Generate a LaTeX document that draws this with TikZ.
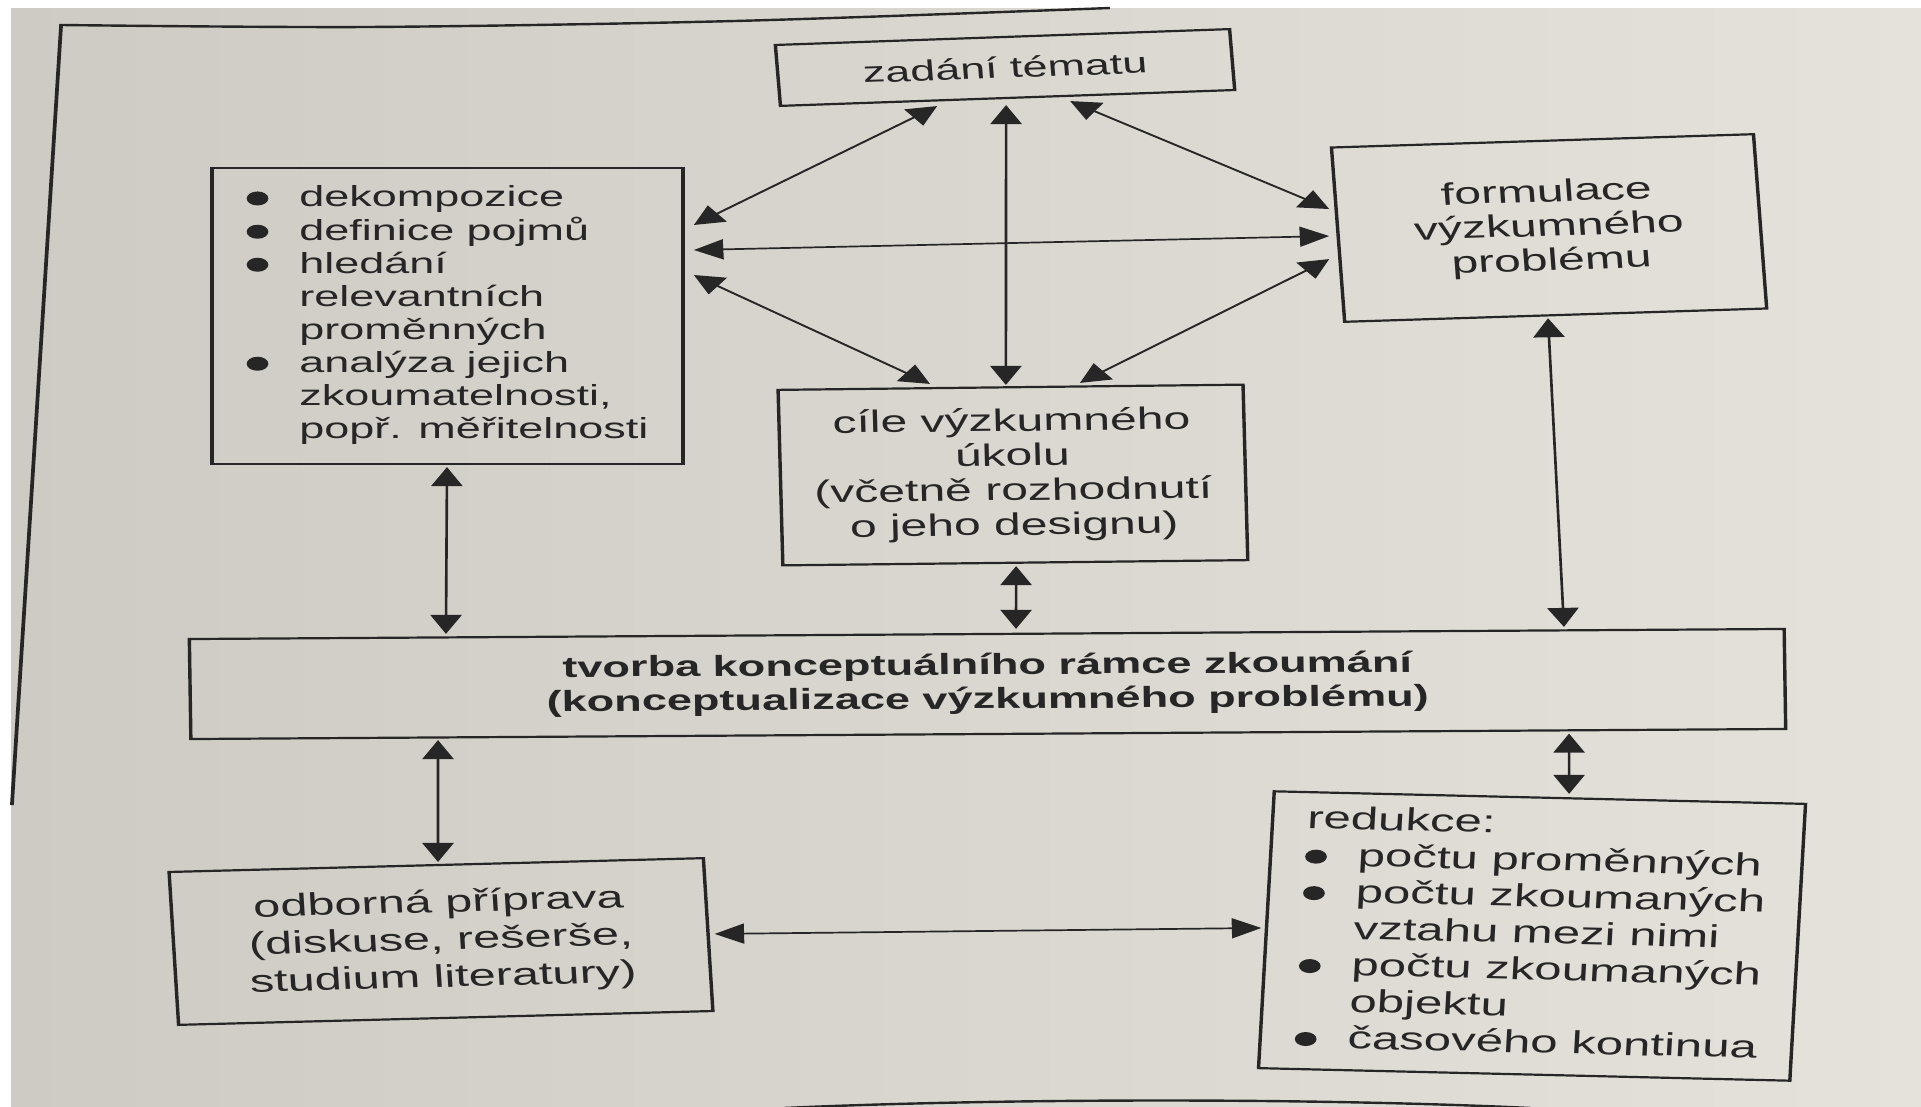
\documentclass[tikz,border=0pt]{standalone}
\usepackage{fontspec}
\setmainfont{Liberation Sans}
\usetikzlibrary{arrows.meta,calc}
\definecolor{ink}{HTML}{262626}
\definecolor{pageL}{RGB}{206,202,196}
\definecolor{pageR}{RGB}{229,226,220}
\newcommand{\bul}{\makebox[34pt][l]{\tikz[x=1pt,y=1pt,baseline=-8.5pt]\fill[ink] (7,0) circle[radius=7];}}
\begin{document}
\begin{tikzpicture}[x=1pt,y=-1pt,
  box/.style={draw=ink, line width=2.2pt, inner sep=0pt, align=center, text=ink},
  link/.style={ink, line width=1.7pt, {Triangle[length=19pt,width=20pt]}-{Triangle[length=19pt,width=20pt]}},
  frameline/.style={ink, line width=2.4pt}]
\useasboundingbox (0,0) rectangle (1921,1107);
\fill[white] (0,0) rectangle (1921,1107);
\shade[left color=pageL, right color=pageR] (11,9) rectangle (1921,1107);
\begin{scope}[transform canvas={xscale=1.55}]
  % outer frame
  \draw[frameline] plot[smooth] coordinates {(716.1,8) (474.2,21) (237.4,27) (39.4,25)} -- (7.7,805);
  \draw[frameline] (505.8,1108) .. controls (650,1098) and (850,1098) .. (987.7,1108);
  % boxes
  \node[box, minimum width=293.5pt, minimum height=61pt, rotate=3.1,
        font=\fontsize{29}{33}\selectfont] (zad) at (648.4,67.5) {zadání tématu};
  \node[box, minimum width=303.9pt, minimum height=296pt,
        font=\fontsize{29}{33}\selectfont] (dek) at (288.7,316) {%
    \begin{tabular}{@{}l@{}l@{}}
    \bul & dekompozice\\
    \bul & definice pojmů\\
    \bul & hledání\\
         & relevantních\\
         & proměnných\\
    \bul & analýza jejich\\
         & zkoumatelnosti,\\
         & popř. měřitelnosti
    \end{tabular}};
  \node[box, minimum width=272.6pt, minimum height=174.5pt, rotate=2.8,
        font=\fontsize{31}{34.3}\selectfont] (for) at (999.4,228) {formulace\\výzkumného\\problému};
  \node[box, minimum width=300pt, minimum height=175.5pt, rotate=1,
        font=\fontsize{31}{34.7}\selectfont] (cil) at (653.5,475) {cíle výzkumného\\úkolu\\(včetně rozhodnutí\\o jeho designu)};
  \node[box, minimum width=1029pt, minimum height=100pt, rotate=0.56,
        font=\bfseries\fontsize{29.1}{34}\selectfont] (tvo) at (637.1,684) {tvorba konceptuálního rámce zkoumání\\(konceptualizace výzkumného problému)};
  \node[box, minimum width=345pt, minimum height=153pt, rotate=2.3,
        font=\fontsize{31.4}{37.5}\selectfont] (odb) at (284.5,941.5) {odborná příprava\\(diskuse, rešerše,\\studium literatury)};
  \node[box, minimum width=343pt, minimum height=277pt, rotate=-2.1,
        font=\fontsize{31.7}{36.5}\selectfont] (red) at (988.4,936) {%
    \begin{tabular}{@{}l@{}l@{}}
    \multicolumn{2}{@{}l@{}}{redukce:}\\
    \bul & počtu proměnných\\
    \bul & počtu zkoumaných\\
         & vztahu mezi nimi\\
    \bul & počtu zkoumaných\\
         & objektu\\
    \bul & časového kontinua
    \end{tabular}};
  % connectors
  \draw[link] ($(zad.south)+(-45.5,7)$) -- ($(dek.east)+(5.9,-91)$);
  \draw[link] ($(zad.south)+(-1,6)$) -- ($(cil.north)+(-3,-1.25)$);
  \draw[link] ($(zad.south)+(40.3,2)$) -- ($(for.west)+(-4.6,-25.65)$);
  \draw[link] ($(dek.east)+(5.9,-66)$) -- ($(for.west)+(-4.6,1.35)$);
  \draw[link] ($(dek.east)+(5.9,-41)$) -- ($(cil.north)+(-52,-2.25)$);
  \draw[link] ($(cil.north)+(44.8,-3.25)$) -- ($(for.west)+(-4.6,24.35)$);
  \draw[link] ($(dek.south)+(-0.3,2)$) -- ($(tvo.north)+(-348.9,1)$);
  \draw[link] ($(for.south)+(-5,2)$) -- ($(tvo.north)+(372.4,-6)$);
  \draw[link] ($(cil.south)+(0.5,2.25)$) -- ($(tvo.north)+(18.9,-4)$);
  \draw[link] ($(tvo.south)+(-355,5)$) -- ($(odb.north)+(1.2,-2)$);
  \draw[link] ($(tvo.south)+(374.7,-1.5)$) -- ($(red.north)+(18.8,-2.6)$);
  \draw[link] ($(odb.east)+(3.1,-0.6)$) -- ($(red.west)+(-2.2,-1.7)$);
\end{scope}
\end{tikzpicture}
\end{document}
